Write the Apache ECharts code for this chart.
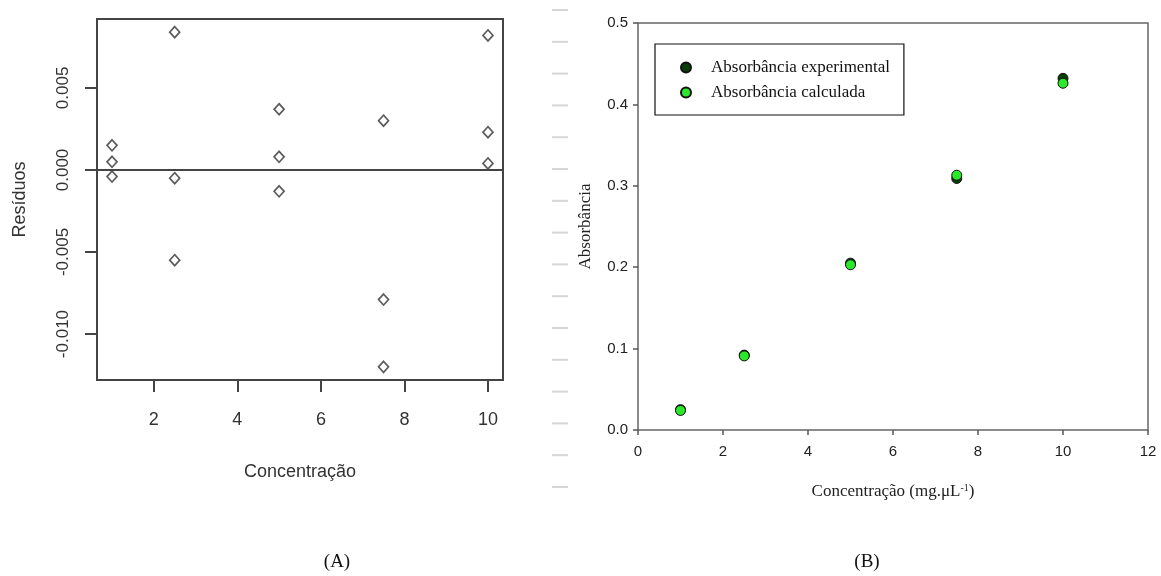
<!DOCTYPE html>
<html>
<head>
<meta charset="utf-8">
<script src="https://cdn.jsdelivr.net/npm/echarts@6/dist/echarts.min.js"></script>
<style>
  html, body { margin: 0; padding: 0; background: #fff; }
  #chart { width: 1161px; height: 576px; }
</style>
</head>
<body>
<div id="chart"></div>
<script>
// (A) residuos
var residX = [1, 1, 1, 2.5, 2.5, 2.5, 5, 5, 5, 7.5, 7.5, 7.5, 10, 10, 10]
var residY = [0.0015, 0.0005, -0.0004, 0.0084, -0.0005, -0.0055, 0.0037, 0.0008, -0.0013, 0.0030, -0.0079, -0.0120, 0.0082, 0.0023, 0.0004]
var residXTicks = [2, 4, 6, 8, 10]
var residYTicks = [-0.010, -0.005, 0, 0.005]

// (B) absorbancia
var conc = [1, 2.5, 5, 7.5, 10]
var absExp = [0.025, 0.092, 0.205, 0.309, 0.432]
var absCalc = [0.024, 0.091, 0.203, 0.313, 0.426]

var SANS = 'Liberation Sans, Arial, sans-serif'
var SERIF = 'Liberation Serif, Times New Roman, serif'

var chart = echarts.init(document.getElementById('chart'))

function pairs(xs, ys) {
  return xs.map(function (x, i) { return [x, ys[i]] })
}

// faint dashes down the middle (page ruler)
var dashes = []
for (var i = 0; i < 16; i++) {
  dashes.push({
    type: 'line',
    shape: { x1: 552, y1: 10 + i * 31.8, x2: 568, y2: 10 + i * 31.8 },
    style: { stroke: '#d6d6d6', lineWidth: 2 },
    silent: true
  })
}

chart.setOption({
  animation: false,
  backgroundColor: '#fff',
  grid: [
    { left: 97, top: 19, width: 406, height: 361, show: true, borderColor: '#444', borderWidth: 2 },
    { left: 638, top: 23, width: 510, height: 407, show: true, borderColor: '#666', borderWidth: 1.5 }
  ],
  legend: {
    left: 655,
    top: 44,
    orient: 'vertical',
    padding: [15, 14, 14, 25],
    itemGap: 8,
    itemWidth: 10,
    itemHeight: 10,
    borderColor: '#111',
    borderWidth: 1.2,
    textStyle: { fontFamily: SERIF, fontSize: 17, color: '#111', padding: [0, 0, 0, 15] },
    data: ['Absorbância experimental', 'Absorbância calculada']
  },
  xAxis: [
    {
      type: 'value', gridIndex: 0, min: 0.64, max: 10.36,
      axisLine: { show: false, onZero: false },
      splitLine: { show: false },
      axisTick: { show: true, customValues: residXTicks, length: 12, inside: false, lineStyle: { color: '#444', width: 2 } },
      axisLabel: { customValues: residXTicks, fontFamily: SANS, fontSize: 18, color: '#333', margin: 31 },
      name: 'Concentração', nameLocation: 'middle', nameGap: 83,
      nameTextStyle: { fontFamily: SANS, fontSize: 18, color: '#333' }
    },
    {
      type: 'value', gridIndex: 1, min: 0, max: 12, interval: 2,
      axisLine: { show: false, onZero: false },
      splitLine: { show: false },
      axisTick: { show: true, length: 5, lineStyle: { color: '#555', width: 1.5 } },
      axisLabel: { fontFamily: SANS, fontSize: 15, color: '#222', margin: 14 },
      name: '{n|Concentração (mg.μL}{s|-1}{n|)}', nameLocation: 'middle', nameGap: 53,
      nameTextStyle: {
        rich: {
          n: { fontFamily: SERIF, fontSize: 17, color: '#222' },
          s: { fontFamily: SERIF, fontSize: 10, color: '#222', verticalAlign: 'top' }
        }
      }
    }
  ],
  yAxis: [
    {
      type: 'value', gridIndex: 0, min: -0.0128, max: 0.0092,
      axisLine: { show: false, onZero: false },
      splitLine: { show: false },
      axisTick: { show: true, customValues: residYTicks, length: 12, lineStyle: { color: '#444', width: 2 } },
      axisLabel: {
        customValues: residYTicks, rotate: 90, fontFamily: SANS, fontSize: 17, color: '#333', margin: 25,
        formatter: function (v) { return v.toFixed(3) }
      },
      name: 'Resíduos', nameLocation: 'middle', nameGap: 68,
      nameTextStyle: { fontFamily: SANS, fontSize: 18, color: '#333' }
    },
    {
      type: 'value', gridIndex: 1, min: 0, max: 0.5, interval: 0.1,
      axisLine: { show: false, onZero: false },
      splitLine: { show: false },
      axisTick: { show: true, length: 5, lineStyle: { color: '#555', width: 1.5 } },
      axisLabel: {
        fontFamily: SANS, fontSize: 15, color: '#222', margin: 10,
        formatter: function (v) { return v.toFixed(1) }
      },
      name: 'Absorbância', nameLocation: 'middle', nameGap: 44,
      nameTextStyle: { fontFamily: SERIF, fontSize: 17, color: '#222' }
    }
  ],
  series: [
    {
      name: 'Resíduos',
      type: 'scatter',
      xAxisIndex: 0, yAxisIndex: 0,
      symbol: 'diamond',
      symbolSize: [10, 11],
      itemStyle: { color: '#fff', borderColor: '#333', borderWidth: 1.7 },
      markLine: {
        silent: true,
        symbol: 'none',
        label: { show: false },
        lineStyle: { color: '#444', type: 'solid', width: 2 },
        data: [{ yAxis: 0 }]
      },
      data: pairs(residX, residY)
    },
    {
      name: 'Absorbância experimental',
      type: 'scatter',
      xAxisIndex: 1, yAxisIndex: 1,
      symbol: 'circle',
      symbolSize: 10,
      itemStyle: { color: '#0b3d0b', borderColor: '#111', borderWidth: 1, opacity: 1 },
      data: pairs(conc, absExp)
    },
    {
      name: 'Absorbância calculada',
      type: 'scatter',
      xAxisIndex: 1, yAxisIndex: 1,
      symbol: 'circle',
      symbolSize: 10,
      itemStyle: { color: '#2be82b', borderColor: '#111', borderWidth: 1, opacity: 1 },
      data: pairs(conc, absCalc)
    }
  ],
  graphic: dashes.concat([
    {
      type: 'text', x: 337, y: 562,
      style: { text: '(A)', fontFamily: SERIF, fontSize: 19, fill: '#111', align: 'center', verticalAlign: 'middle' }
    },
    {
      type: 'text', x: 867, y: 562,
      style: { text: '(B)', fontFamily: SERIF, fontSize: 19, fill: '#111', align: 'center', verticalAlign: 'middle' }
    }
  ])
})
</script>
</body>
</html>
